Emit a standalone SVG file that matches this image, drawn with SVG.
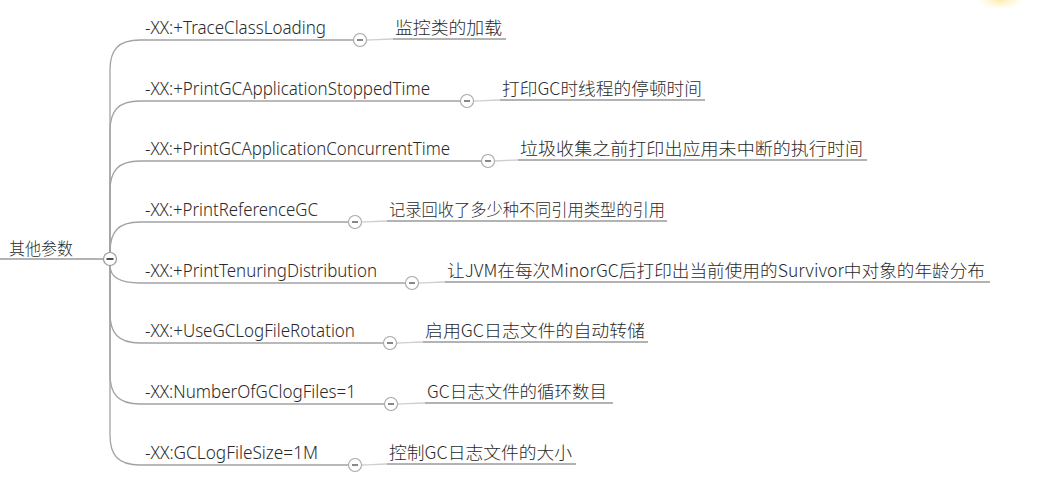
<svg xmlns="http://www.w3.org/2000/svg" width="1045" height="495" viewBox="0 0 1045 495">
<style>
.lab{font-family:"Noto Sans","Liberation Sans",sans-serif;font-size:17.5px;font-weight:300;fill:#2a2a2a}
.cn{font-family:"Noto Sans CJK SC","Noto Sans",sans-serif;font-size:17.5px;font-weight:300;fill:#2a2a2a}
.root{font-family:"Noto Sans CJK SC","Noto Sans",sans-serif;font-size:16.5px;font-weight:300;fill:#2a2a2a}
.br{fill:none;stroke:#a3a3a3;stroke-width:1.3}
.ul{fill:none;stroke:#9a9a9a;stroke-width:1.3}
.cc{fill:none;stroke:#cfcfcf;stroke-width:1.3}
.tg{fill:#fff;stroke:#a8a8a8;stroke-width:1.1}
.mn{stroke:#555;stroke-width:1.4}
</style>
<defs>
<radialGradient id="glow" cx="0.5" cy="0.5" r="0.5">
<stop offset="0" stop-color="#fde9a0" stop-opacity="0.9"/>
<stop offset="1" stop-color="#fff6d0" stop-opacity="0"/>
</radialGradient>
</defs>
<rect width="1045" height="495" fill="#fff"/>
<ellipse cx="1000" cy="0" rx="26" ry="10" fill="url(#glow)"/>

<g id="connectors">
<path class="ul" d="M0,259 H103.5"/>
<path class="br" d="M110,252.5 V70 C110,50 118,40 140,40 H353.5"/>
<path class="br" d="M110,252.5 V131 C110,111 118,101 140,101 H460.5"/>
<path class="br" d="M110,252.5 V191 C110,171 118,161 140,161 H481.5"/>
<path class="br" d="M110,252.5 C110,232 118,222 140,222 H348.5"/>
<path class="br" d="M110,265.5 C110,276 118,283 140,283 H405.5"/>
<path class="br" d="M110,265.5 V313 C110,333 118,343 140,343 H383.5"/>
<path class="br" d="M110,265.5 V374 C110,394 118,404 140,404 H384.5"/>
<path class="br" d="M110,265.5 V435 C110,455 118,465 140,465 H348.5"/>

<path class="cc" d="M366.5,40 C376,40 380,39 393,39"/>
<path class="ul" d="M393,39 H506"/>
<path class="cc" d="M473.5,101 C483,101 487,100 500,100"/>
<path class="ul" d="M500,100 H705"/>
<path class="cc" d="M494.5,161 C504,161 508,160 518,160"/>
<path class="ul" d="M518,160 H867"/>
<path class="cc" d="M361.5,222 C371,222 375,221 387,221"/>
<path class="ul" d="M387,221 H667"/>
<path class="cc" d="M418.5,283 C428,283 432,282 445,282"/>
<path class="ul" d="M445,282 H990"/>
<path class="cc" d="M396.5,343 C406,343 410,342 423,342"/>
<path class="ul" d="M423,342 H648"/>
<path class="cc" d="M397.5,404 C407,404 411,403 425,403"/>
<path class="ul" d="M425,403 H613"/>
<path class="cc" d="M361.5,465 C371,465 375,464 387,464"/>
<path class="ul" d="M387,464 H576"/>
</g>

<g id="root">
<text class="root" x="9" y="255" textLength="64" lengthAdjust="spacingAndGlyphs">其他参数</text>
<circle cx="110" cy="259" r="6.5" fill="#fff" stroke="#9a9a9a" stroke-width="1.2"/>
<line x1="106.5" y1="259" x2="113.5" y2="259" stroke="#222" stroke-width="1.6"/>
</g>

<g id="n1">
<text class="lab" x="145" y="34" textLength="181" lengthAdjust="spacingAndGlyphs">-XX:+TraceClassLoading</text>
<circle class="tg" cx="360" cy="40" r="6.5"/><line class="mn" x1="357" y1="40" x2="363" y2="40"/>
</g>
<g id="n1c"><text class="cn" x="395" y="34" textLength="107" lengthAdjust="spacingAndGlyphs">监控类的加载</text></g>

<g id="n2">
<text class="lab" x="145" y="95" textLength="285" lengthAdjust="spacingAndGlyphs">-XX:+PrintGCApplicationStoppedTime</text>
<circle class="tg" cx="467" cy="101" r="6.5"/><line class="mn" x1="464" y1="101" x2="470" y2="101"/>
</g>
<g id="n2c"><text class="cn" x="502" y="95" textLength="200" lengthAdjust="spacingAndGlyphs">打印GC时线程的停顿时间</text></g>

<g id="n3">
<text class="lab" x="145" y="155" textLength="305" lengthAdjust="spacingAndGlyphs">-XX:+PrintGCApplicationConcurrentTime</text>
<circle class="tg" cx="488" cy="161" r="6.5"/><line class="mn" x1="485" y1="161" x2="491" y2="161"/>
</g>
<g id="n3c"><text class="cn" x="520" y="155" textLength="343" lengthAdjust="spacingAndGlyphs">垃圾收集之前打印出应用未中断的执行时间</text></g>

<g id="n4">
<text class="lab" x="145" y="216" textLength="173" lengthAdjust="spacingAndGlyphs">-XX:+PrintReferenceGC</text>
<circle class="tg" cx="355" cy="222" r="6.5"/><line class="mn" x1="352" y1="222" x2="358" y2="222"/>
</g>
<g id="n4c"><text class="cn" x="389" y="216" textLength="276" lengthAdjust="spacingAndGlyphs">记录回收了多少种不同引用类型的引用</text></g>

<g id="n5">
<text class="lab" x="145" y="277" textLength="232" lengthAdjust="spacingAndGlyphs">-XX:+PrintTenuringDistribution</text>
<circle class="tg" cx="412" cy="283" r="6.5"/><line class="mn" x1="409" y1="283" x2="415" y2="283"/>
</g>
<g id="n5c"><text class="cn" x="447" y="277" textLength="538" lengthAdjust="spacingAndGlyphs">让JVM在每次MinorGC后打印出当前使用的Survivor中对象的年龄分布</text></g>

<g id="n6">
<text class="lab" x="145" y="337" textLength="210" lengthAdjust="spacingAndGlyphs">-XX:+UseGCLogFileRotation</text>
<circle class="tg" cx="390" cy="343" r="6.5"/><line class="mn" x1="387" y1="343" x2="393" y2="343"/>
</g>
<g id="n6c"><text class="cn" x="425" y="337" textLength="220" lengthAdjust="spacingAndGlyphs">启用GC日志文件的自动转储</text></g>

<g id="n7">
<text class="lab" x="145" y="398" textLength="211" lengthAdjust="spacingAndGlyphs">-XX:NumberOfGClogFiles=1</text>
<circle class="tg" cx="391" cy="404" r="6.5"/><line class="mn" x1="388" y1="404" x2="394" y2="404"/>
</g>
<g id="n7c"><text class="cn" x="427" y="398" textLength="180" lengthAdjust="spacingAndGlyphs">GC日志文件的循环数目</text></g>

<g id="n8">
<text class="lab" x="145" y="459" textLength="173" lengthAdjust="spacingAndGlyphs">-XX:GCLogFileSize=1M</text>
<circle class="tg" cx="355" cy="465" r="6.5"/><line class="mn" x1="352" y1="465" x2="358" y2="465"/>
</g>
<g id="n8c"><text class="cn" x="389" y="459" textLength="183" lengthAdjust="spacingAndGlyphs">控制GC日志文件的大小</text></g>
</svg>
